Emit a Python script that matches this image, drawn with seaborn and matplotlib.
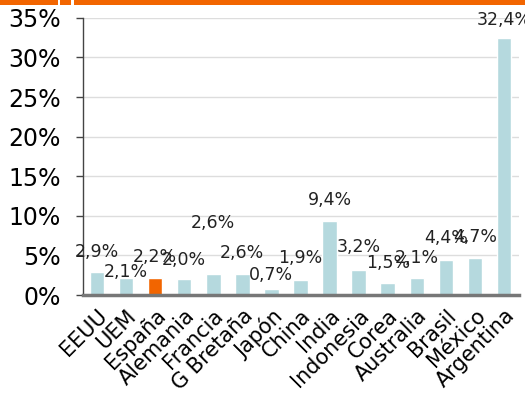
import seaborn as sns
import matplotlib.pyplot as plt
import matplotlib.patches as mpatches
import pandas as pd

# data
countries = ["EEUU", "UEM", "España", "Alemania", "Francia", "G Bretaña", "Japón", "China",
             "India", "Indonesia", "Corea", "Australia", "Brasil", "México", "Argentina"]
values = [2.9, 2.1, 2.2, 2.0, 2.6, 2.6, 0.7, 1.9, 9.4, 3.2, 1.5, 2.1, 4.4, 4.7, 32.4]
labels = ["2,9%", "2,1%", "2,2%", "2,0%", "2,6%", "2,6%", "0,7%", "1,9%",
          "9,4%", "3,2%", "1,5%", "2,1%", "4,4%", "4,7%", "32,4%"]
# where the value labels sit
label_y = [5.4, 2.9, 4.8, 4.4, 9.1, 5.3, 2.5, 4.7, 12.0, 6.1, 4.0, 4.7, 7.2, 7.3, 34.7]

df = pd.DataFrame({"country": countries, "value": values})
colors = ["#f26500" if c == "España" else "#b5d9de" for c in countries]

sns.set_style("white")
plt.rcParams['font.family'] = ['DejaVu Sans']

fig = plt.figure(figsize=(5.25, 3.96), dpi=100)
ax = fig.add_axes([0.158, 0.255, 0.831, 0.70])

sns.barplot(data=df, x="country", y="value", hue="country", palette=colors,
            legend=False, width=0.5, saturation=1, ax=ax)

for i, (lab, ly) in enumerate(zip(labels, label_y)):
    ax.text(i, ly, lab, ha="center", va="center", fontsize=12.5, color="#222222",
            clip_on=False)

ax.set_ylim(0, 35)
ax.set_xlim(-0.48, len(countries) - 0.48)
ax.set_yticks(range(0, 36, 5))
ax.set_yticklabels([f"{v}%" for v in range(0, 36, 5)], fontsize=17, color="black")
ax.set_xticks(range(len(countries)))
ax.set_xticklabels(countries, rotation=45, ha="right", rotation_mode="anchor",
                   fontsize=15, color="black")
ax.tick_params(axis="y", left=True, length=5, width=1, color="#444444", pad=11)
ax.tick_params(axis="x", bottom=False, pad=4)
ax.set_xlabel("")
ax.set_ylabel("")
ax.yaxis.grid(True, color="#dddddd", linewidth=1)
ax.set_axisbelow(True)

for s in ["top", "right"]:
    ax.spines[s].set_visible(False)
ax.spines["left"].set_color("#444444")
ax.spines["left"].set_linewidth(1)
ax.spines["bottom"].set_color("#777777")
ax.spines["bottom"].set_linewidth(2.5)

# orange band on top with two small white notches
fig.add_artist(mpatches.Rectangle((0, 0.988), 1, 0.012, transform=fig.transFigure,
                                  color="#f26500", lw=0))
for nx in [0.110, 0.136]:
    fig.add_artist(mpatches.Rectangle((nx, 0.988), 0.004, 0.012, transform=fig.transFigure,
                                      color="white", lw=0))

plt.savefig("out.png", dpi=100, facecolor="white")
plt.close()
